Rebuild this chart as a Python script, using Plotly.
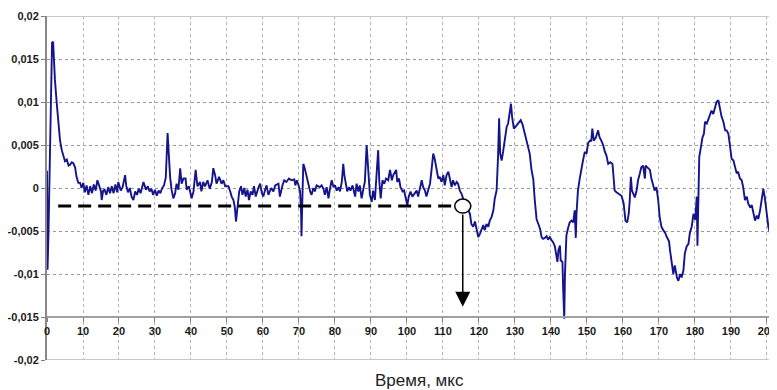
import plotly.graph_objects as go

# Time (us) and signal values
time_us = [
    0.0, 0.15, 0.4, 0.7, 0.95, 1.2, 1.4, 1.7, 1.9, 2.2, 2.7, 3.1, 3.6, 4.1, 4.5, 5.0, 5.5, 6.0, 6.4, 6.9,
    7.3, 7.8, 8.2, 8.7, 9.2, 9.6, 10.1, 10.5, 11.0, 11.5, 12.0, 12.5, 13.0, 13.5, 14.0, 14.5, 15.0, 15.2,
    15.6, 16.0, 16.5, 17.0, 17.5, 18.0, 18.5, 19.0, 19.5, 19.8, 20.5, 21.0, 21.7, 22.0, 22.5, 23.0, 23.5,
    24.0, 24.5, 25.0, 25.5, 26.0, 26.5, 26.8, 27.5, 28.0, 28.5, 29.0, 29.5, 30.0, 30.5, 31.0, 31.5, 32.0,
    32.5, 33.0, 33.5, 33.9, 34.2, 34.6, 35.1, 35.6, 36.0, 36.5, 37.0, 37.4, 37.9, 38.5, 38.8, 39.4, 40.2,
    40.7, 41.3, 41.8, 42.5, 42.9, 43.4, 43.9, 44.6, 45.2, 45.8, 46.2, 46.7, 47.1, 47.8, 48.5, 49.0, 49.5,
    50.4, 50.9, 51.3, 51.8, 52.2, 52.5, 52.9, 53.4, 53.9, 54.3, 54.8, 55.2, 55.7, 56.1, 56.6, 57.1, 57.5,
    58.0, 58.7, 59.2, 59.7, 60.1, 60.6, 61.0, 61.5, 62.3, 62.9, 63.4, 64.3, 64.7, 65.4, 65.9, 66.5, 67.2,
    67.9, 68.7, 69.0, 69.4, 69.9, 70.3, 70.6, 70.7, 70.9, 71.2, 71.6, 72.1, 72.6, 73.1, 73.5, 74.0, 74.4,
    74.9, 75.8, 76.3, 76.8, 77.2, 77.7, 78.2, 78.6, 79.1, 79.6, 80.0, 80.5, 81.0, 81.4, 81.9, 82.3, 82.6,
    83.1, 83.4, 83.9, 84.3, 84.9, 85.6, 86.0, 86.5, 86.9, 87.4, 87.9, 88.3, 88.8, 89.3, 89.7, 90.2, 90.6,
    91.1, 91.6, 92.0, 92.3, 92.7, 93.2, 93.7, 94.2, 94.8, 95.3, 95.8, 96.2, 97.0, 97.3, 97.8, 98.2, 98.8,
    99.2, 99.6, 100.1, 100.5, 101.0, 101.5, 102.2, 102.7, 103.1, 103.6, 104.1, 104.5, 105.0, 105.4, 105.9,
    106.4, 106.8, 107.3, 107.7, 108.2, 108.7, 109.1, 109.6, 110.1, 110.5, 111.0, 111.5, 111.9, 112.4,
    112.8, 113.3, 113.8, 114.2, 114.7, 115.2, 115.8, 116.5, 117.0, 117.5, 117.9, 118.4, 118.9, 119.3,
    119.8, 120.3, 120.7, 121.2, 121.6, 122.1, 122.6, 123.0, 123.5, 124.0, 124.4, 124.9, 125.3, 125.6,
    125.9, 126.3, 126.7, 127.2, 127.7, 128.1, 128.6, 128.9, 129.2, 129.7, 130.3, 130.9, 131.6, 132.1,
    132.8, 133.4, 134.1, 134.6, 135.1, 135.5, 136.0, 136.6, 137.0, 137.4, 137.8, 138.3, 138.8, 139.2,
    139.7, 140.2, 140.6, 141.1, 141.5, 141.8, 142.1, 142.5, 142.7, 143.2, 143.4, 143.7, 143.9, 144.3,
    144.8, 145.2, 145.7, 146.2, 146.6, 146.9, 147.1, 147.5, 148.0, 148.5, 148.9, 149.4, 149.9, 150.3,
    150.8, 151.2, 151.5, 151.9, 152.5, 153.1, 153.5, 154.0, 154.5, 155.0, 155.4, 155.9, 156.5, 157.1,
    157.5, 157.7, 158.2, 158.9, 159.6, 160.2, 160.7, 161.2, 161.6, 161.9, 162.2, 162.5, 162.8, 163.3,
    163.8, 164.2, 164.7, 165.1, 165.6, 166.1, 166.3, 167.0, 167.5, 167.9, 168.4, 168.8, 169.3, 169.8,
    170.2, 170.7, 171.2, 171.7, 172.2, 172.8, 173.1, 173.5, 174.0, 174.4, 175.0, 175.4, 175.9, 176.3,
    176.8, 177.2, 177.7, 178.2, 178.6, 179.1, 179.6, 180.1, 180.5, 180.7, 180.9, 181.2, 181.6, 182.1,
    182.5, 182.8, 183.3, 183.7, 184.2, 184.6, 185.1, 185.6, 186.0, 186.5, 187.0, 187.4, 187.9, 188.4,
    188.8, 189.3, 189.7, 190.2, 190.7, 191.1, 191.6, 192.0, 192.5, 193.0, 193.4, 193.9, 194.4, 194.8,
    195.3, 195.8, 196.2, 196.7, 197.2, 197.6, 198.1, 198.6, 199.0, 199.4, 199.9, 200.4, 200.9, 201.3,
    201.8, 202.0, 202.2, 202.7,
]
signal = [
    0.0020, -0.0095, -0.0055, 0.0005, 0.0080, 0.0145, 0.0169, 0.0170, 0.0148, 0.0126, 0.0099, 0.0079,
    0.0056, 0.0044, 0.0037, 0.0031, 0.0033, 0.0026, 0.0027, 0.0030, 0.0029, 0.0024, 0.0013, 0.0006,
    0.0006, 0.0000, 0.0006, -0.0005, 0.0003, -0.0008, 0.0002, -0.0006, 0.0004, -0.0003, 0.0009, 0.0001,
    -0.0004, -0.0014, -0.0003, -0.0002, -0.0008, 0.0001, -0.0006, 0.0002, -0.0006, 0.0004, -0.0005,
    0.0007, -0.0003, 0.0001, 0.0015, 0.0003, -0.0005, 0.0000, -0.0010, -0.0014, -0.0004, -0.0008,
    -0.0001, -0.0006, 0.0002, 0.0007, -0.0002, 0.0002, -0.0004, -0.0001, -0.0008, -0.0002, -0.0009,
    -0.0003, -0.0006, 0.0000, 0.0003, 0.0012, 0.0064, 0.0030, 0.0013, -0.0002, -0.0012, -0.0006, 0.0005,
    -0.0002, 0.0023, 0.0005, 0.0011, 0.0011, -0.0002, 0.0002, -0.0012, -0.0004, 0.0021, 0.0002, 0.0007,
    -0.0004, 0.0007, 0.0002, 0.0009, -0.0001, 0.0007, 0.0023, 0.0015, 0.0005, 0.0013, 0.0005, 0.0009,
    0.0002, 0.0002, -0.0004, -0.0010, -0.0014, -0.0023, -0.0039, -0.0020, -0.0004, 0.0002, -0.0008,
    0.0000, -0.0010, -0.0002, -0.0014, -0.0004, -0.0008, 0.0002, -0.0010, 0.0000, 0.0005, -0.0006,
    -0.0010, -0.0002, 0.0003, -0.0008, 0.0000, -0.0004, 0.0003, 0.0005, -0.0010, 0.0003, 0.0009, 0.0007,
    0.0011, 0.0009, 0.0010, 0.0003, 0.0009, 0.0003, -0.0004, -0.0030, -0.0056, -0.0020, 0.0028, 0.0023,
    0.0013, 0.0002, -0.0004, -0.0008, 0.0000, -0.0004, 0.0003, 0.0001, 0.0003, -0.0001, -0.0008, 0.0001,
    -0.0012, -0.0001, 0.0009, 0.0001, 0.0003, -0.0003, 0.0001, -0.0004, 0.0007, 0.0028, 0.0015, 0.0003,
    -0.0004, 0.0001, -0.0003, 0.0003, -0.0010, 0.0005, -0.0004, 0.0003, -0.0012, -0.0001, 0.0007, 0.0050,
    0.0017, -0.0008, -0.0016, -0.0003, -0.0014, 0.0013, 0.0044, 0.0009, -0.0012, 0.0009, 0.0005, 0.0011,
    0.0009, 0.0021, 0.0009, 0.0015, 0.0021, 0.0007, 0.0011, 0.0001, -0.0004, -0.0003, -0.0012, -0.0020,
    -0.0010, -0.0004, -0.0010, -0.0006, -0.0003, -0.0010, 0.0000, 0.0009, 0.0001, -0.0003, -0.0010,
    -0.0003, 0.0005, 0.0020, 0.0040, 0.0034, 0.0024, 0.0011, 0.0013, 0.0007, 0.0015, 0.0003, 0.0015,
    0.0019, 0.0011, 0.0001, 0.0009, 0.0003, 0.0007, 0.0005, -0.0003, -0.0007, -0.0015, -0.0022, -0.0025,
    -0.0030, -0.0042, -0.0045, -0.0039, -0.0049, -0.0057, -0.0053, -0.0049, -0.0043, -0.0049, -0.0042,
    -0.0045, -0.0038, -0.0034, -0.0026, -0.0012, -0.0003, 0.0036, 0.0081, 0.0040, 0.0032, 0.0042, 0.0055,
    0.0071, 0.0075, 0.0087, 0.0098, 0.0083, 0.0069, 0.0072, 0.0075, 0.0079, 0.0074, 0.0062, 0.0052,
    0.0040, 0.0021, 0.0010, -0.0014, -0.0036, -0.0043, -0.0048, -0.0057, -0.0059, -0.0058, -0.0056,
    -0.0060, -0.0057, -0.0061, -0.0063, -0.0068, -0.0080, -0.0086, -0.0072, -0.0067, -0.0084, -0.0086,
    -0.0118, -0.0152, -0.0100, -0.0055, -0.0046, -0.0040, -0.0038, -0.0040, -0.0026, -0.0058, -0.0030,
    -0.0003, 0.0011, 0.0026, 0.0032, 0.0042, 0.0040, 0.0052, 0.0055, 0.0055, 0.0069, 0.0055, 0.0059,
    0.0067, 0.0059, 0.0055, 0.0050, 0.0042, 0.0038, 0.0028, 0.0030, 0.0028, 0.0005, -0.0003, -0.0005,
    -0.0007, -0.0009, -0.0018, -0.0038, -0.0040, -0.0030, -0.0014, 0.0013, -0.0003, -0.0007, -0.0011,
    -0.0003, 0.0009, 0.0017, 0.0024, 0.0026, 0.0011, 0.0026, 0.0023, 0.0021, 0.0011, 0.0003, -0.0003,
    0.0001, -0.0014, -0.0034, -0.0045, -0.0049, -0.0052, -0.0057, -0.0062, -0.0073, -0.0088, -0.0100,
    -0.0090, -0.0104, -0.0108, -0.0100, -0.0104, -0.0096, -0.0076, -0.0068, -0.0065, -0.0052, -0.0045,
    -0.0030, -0.0037, -0.0010, -0.0067, -0.0003, 0.0036, 0.0046, 0.0059, 0.0063, 0.0077, 0.0075, 0.0079,
    0.0085, 0.0090, 0.0086, 0.0096, 0.0100, 0.0102, 0.0090, 0.0083, 0.0077, 0.0067, 0.0067, 0.0063,
    0.0050, 0.0034, 0.0032, 0.0026, 0.0017, 0.0019, 0.0011, 0.0009, 0.0001, -0.0014, -0.0010, -0.0018,
    -0.0022, -0.0020, -0.0030, -0.0038, -0.0032, -0.0036, -0.0026, -0.0014, -0.0001, -0.0011, -0.0030,
    -0.0045, -0.0053, -0.0049, -0.0076, -0.0098, -0.0053, -0.0045,
]

x_tick_vals = list(range(0, 201, 10))
x_tick_text = [str(v) for v in x_tick_vals]
y_tick_vals = [-0.02, -0.015, -0.01, -0.005, 0, 0.005, 0.01, 0.015, 0.02]
y_tick_text = ["-0,02", "-0,015", "-0,01", "-0,005", "0", "0,005", "0,01", "0,015", "0,02"]

# Threshold annotation (dashed level, marker circle, arrow)
threshold_level = -0.0021
threshold_start = 3.1
threshold_end = 119.5
onset_time = 115.5
arrow_tip = -0.0138
arrow_tail = -0.0029

x_title = "Время, мкс"

fig = go.Figure()
fig.add_trace(go.Scatter(
    x=time_us, y=signal, mode="lines",
    line=dict(color="#14148c", width=1.9),
    hoverinfo="skip", showlegend=False, cliponaxis=True,
))

tick_font = dict(family="Liberation Sans, Arial, sans-serif", size=11, color="#1a1a1a", weight="bold")

# The page body adds an 8px offset, so the figure is sized to fit the window after that offset.
fig.update_layout(
    width=769, height=382,
    margin=dict(l=39, r=0, t=8, b=30, autoexpand=False),
    paper_bgcolor="white", plot_bgcolor="white",
    showlegend=False,
    xaxis=dict(
        range=[0, 202.8], tickvals=x_tick_vals, ticktext=x_tick_text,
        showgrid=True, gridcolor="#b4b4b4", griddash="dot", gridwidth=1,
        showline=True, linecolor="#a0a0a0", linewidth=1.5,
        ticks="outside", ticklen=4, tickcolor="#808080",
        anchor="free", position=0.125, zeroline=False,
        tickfont=tick_font, automargin=False,
    ),
    yaxis=dict(
        range=[-0.02, 0.02], tickvals=y_tick_vals, ticktext=y_tick_text,
        showgrid=True, gridcolor="#999999", griddash="dot", gridwidth=1,
        showline=True, linecolor="#888888", linewidth=2,
        ticks="outside", ticklen=4, tickcolor="#808080",
        zeroline=False, tickfont=tick_font, automargin=False,
    ),
    shapes=[
        dict(type="line", xref="paper", yref="y", x0=0, x1=1, y0=0.02, y1=0.02,
             line=dict(color="#c8c8c8", width=2), layer="above"),
        dict(type="line", xref="paper", yref="y", x0=0, x1=1, y0=-0.02, y1=-0.02,
             line=dict(color="#c8c8c8", width=2), layer="above"),
        dict(type="line", xref="x", yref="y", x0=threshold_start, x1=threshold_end,
             y0=threshold_level, y1=threshold_level,
             line=dict(color="black", width=3, dash="13px,7px")),
        dict(type="circle", xref="x", yref="y", xsizemode="pixel", ysizemode="pixel",
             xanchor=onset_time, yanchor=threshold_level, x0=-8, x1=8, y0=-7, y1=7,
             fillcolor="white", line=dict(color="black", width=1.5)),
    ],
    annotations=[
        dict(x=onset_time, y=arrow_tip, ax=onset_time, ay=arrow_tail,
             xref="x", yref="y", axref="x", ayref="y", text="",
             showarrow=True, arrowhead=2, arrowsize=2.0, arrowwidth=1.5,
             arrowcolor="black", standoff=0, startstandoff=0),
        dict(x=(420 - 47) / 730, y=0, xref="paper", yref="paper", yshift=-20,
             yanchor="middle", xanchor="center", showarrow=False, text=x_title,
             font=dict(family="Liberation Sans, Arial, sans-serif", size=17, color="#222222")),
    ],
)

fig.write_html("out.html")
